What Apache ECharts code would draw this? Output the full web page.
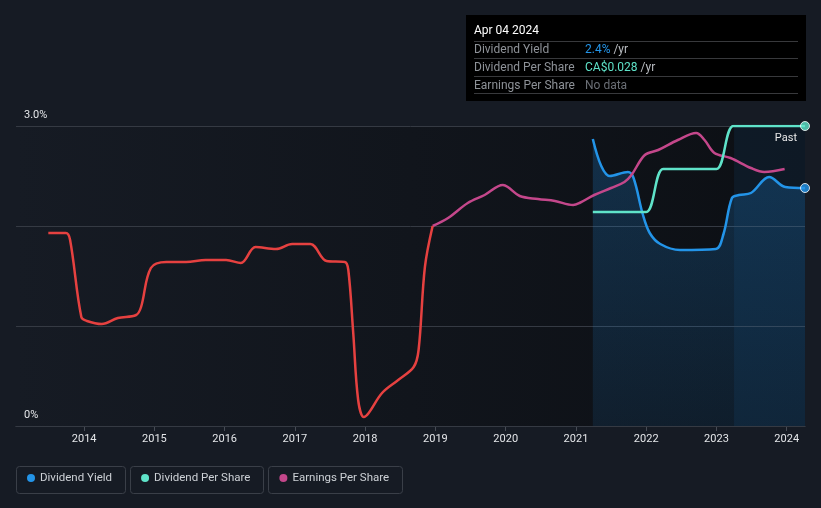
<!DOCTYPE html>
<html>
<head>
<meta charset="utf-8">
<script src="https://cdn.jsdelivr.net/npm/echarts@6/dist/echarts.min.js"></script>
<style>
html,body{margin:0;padding:0;background:#161b24;}
#c{width:821px;height:508px;}
</style>
</head>
<body>
<div id="c"></div>
<script>
// ---- data (x = decimal year, y = percent scale) ----
const yearTicks = [2014, 2015, 2016, 2017, 2018, 2019, 2020, 2021, 2022, 2023, 2024];
const yTickLabels = {0: '0%', 3: '3.0%'};

const dividendYield = [
  [2021.24, 2.87], [2021.36, 2.60], [2021.48, 2.50], [2021.74, 2.54], [2021.82, 2.48],
  [2021.95, 2.12], [2022.05, 1.93], [2022.20, 1.82], [2022.48, 1.76], [2022.99, 1.77],
  [2023.10, 1.92], [2023.22, 2.28], [2023.32, 2.31], [2023.49, 2.33], [2023.75, 2.49],
  [2023.98, 2.39], [2024.26, 2.38]
];

const dividendPerShare = [
  [2021.24, 2.14], [2022.00, 2.14], [2022.24, 2.57], [2023.00, 2.57], [2023.24, 3.0], [2024.26, 3.0]
];

const earningsPerShare = [
  [2013.49, 1.93], [2013.74, 1.93], [2013.80, 1.86], [2013.96, 1.09], [2014.04, 1.05],
  [2014.25, 1.02], [2014.48, 1.08], [2014.74, 1.11], [2014.81, 1.19], [2014.95, 1.58],
  [2015.17, 1.64], [2015.45, 1.64], [2015.73, 1.66], [2016.02, 1.66], [2016.23, 1.63],
  [2016.44, 1.79], [2016.73, 1.77], [2016.96, 1.82], [2017.22, 1.82], [2017.45, 1.65],
  [2017.71, 1.64], [2017.76, 1.56], [2017.83, 0.93], [2017.90, 0.26], [2017.98, 0.09],
  [2018.05, 0.13], [2018.24, 0.33], [2018.47, 0.46], [2018.69, 0.59], [2018.76, 0.76],
  [2018.85, 1.59], [2018.96, 2.00], [2019.18, 2.08], [2019.46, 2.23], [2019.70, 2.31],
  [2019.96, 2.41], [2020.03, 2.39], [2020.20, 2.30], [2020.46, 2.27], [2020.70, 2.25],
  [2020.96, 2.21], [2021.05, 2.23], [2021.26, 2.31], [2021.50, 2.38], [2021.69, 2.44],
  [2021.79, 2.51], [2021.98, 2.71], [2022.17, 2.76], [2022.45, 2.86], [2022.71, 2.93],
  [2022.83, 2.86], [2022.97, 2.73], [2023.20, 2.68], [2023.49, 2.58], [2023.68, 2.54],
  [2023.97, 2.57]
];
const epsThreshold = 2.0;

const pastBand = [2023.25, 2024.26];
const xRange = [2013.03, 2024.26];

const legendNames = ['Dividend Yield', 'Dividend Per Share', 'Earnings Per Share'];
const colors = {yield: '#2394e8', dps: '#5fe3c9', eps: '#c4478b', epsNeg: '#e64140'};

const tooltipTitle = 'Apr 04 2024';
const tooltipRows = [
  ['Dividend Yield', '2.4%', ' /yr', colors.yield],
  ['Dividend Per Share', 'CA$0.028', ' /yr', colors.dps],
  ['Earnings Per Share', 'No data', '', '#6b6f76']
];

// split EPS into the part below the threshold and the rest
const splitIdx = earningsPerShare.findIndex(p => p[1] >= epsThreshold);
const epsLow = earningsPerShare.slice(0, splitIdx + 1);
const epsHigh = earningsPerShare.slice(splitIdx);

// ---- chart ----
const chart = echarts.init(document.getElementById('c'), null, {renderer: 'canvas'});
const FONT = 'Roboto, "Noto Sans", sans-serif';

const graphics = [];
graphics.push({type: 'rect', left: 466, top: 15, shape: {width: 340, height: 86}, style: {fill: '#000000'}, z: 100});
graphics.push({type: 'text', x: 474, y: 30.5, style: {text: tooltipTitle, fill: '#ffffff', font: '12px ' + FONT, verticalAlign: 'middle'}, z: 101});
const sepY = [41, 58, 76, 93];
sepY.forEach(y => graphics.push({type: 'line', shape: {x1: 474, y1: y + 0.5, x2: 798, y2: y + 0.5}, style: {stroke: '#38393c', lineWidth: 1}, z: 101}));
tooltipRows.forEach((r, i) => {
  const cy = 50 + i * 17.8;
  graphics.push({type: 'text', x: 474, y: cy, style: {text: r[0], fill: '#8e9298', font: '12px ' + FONT, verticalAlign: 'middle'}, z: 101});
  graphics.push({type: 'text', x: 585, y: cy, style: {
    text: '{v|' + r[1] + '}{u|' + r[2] + '}',
    verticalAlign: 'middle',
    rich: {v: {fill: r[3], font: '12px ' + FONT}, u: {fill: '#b9bcc1', font: '12px ' + FONT}}
  }, z: 101});
});
graphics.push({type: 'text', x: 797, y: 138, style: {text: 'Past', fill: '#e8e8e8', font: '11px ' + FONT, align: 'right', verticalAlign: 'middle'}, z: 50});
const boxes = [[16.5, 109], [130.5, 133], [268.5, 134]];
boxes.forEach(b => graphics.push({type: 'rect', shape: {x: b[0], y: 466.5, width: b[1], height: 27, r: 3}, style: {fill: 'none', stroke: '#3a3f48', lineWidth: 1}, z: 1}));

const option = {
  backgroundColor: '#161b24',
  animation: false,
  grid: {
    left: 16, right: 16, top: 126, bottom: 82,
    show: true, borderWidth: 0,
    backgroundColor: new echarts.graphic.LinearGradient(0, 0, 1, 0, [
      {offset: 0, color: '#161b24'}, {offset: 1, color: '#0c0f14'}
    ])
  },
  legend: {
    data: legendNames.map(n => ({name: n, icon: 'circle'})),
    left: 27, top: 472, padding: 0,
    itemWidth: 8, itemHeight: 8, itemGap: 29,
    textStyle: {color: '#cdd1d6', fontSize: 11.5, fontFamily: FONT}
  },
  xAxis: {
    type: 'value', min: xRange[0], max: xRange[1],
    axisLine: {show: true, lineStyle: {color: '#474c55', width: 1}},
    axisTick: {show: true, customValues: yearTicks, length: 5, lineStyle: {color: '#474c55'}},
    axisLabel: {customValues: yearTicks, color: '#e4e6e9', fontSize: 11, fontFamily: FONT, margin: 8,
      formatter: v => String(Math.round(v))},
    splitLine: {show: false}
  },
  yAxis: {
    type: 'value', min: 0, max: 3, interval: 1,
    axisLine: {show: false}, axisTick: {show: false},
    splitLine: {show: true, lineStyle: {color: '#353a43', width: 1}},
    axisLabel: {
      inside: true, margin: 8, color: '#e4e6e9', fontSize: 11, fontFamily: FONT,
      verticalAlign: 'bottom', padding: [0, 0, 5, 0],
      formatter: v => yTickLabels[v] || ''
    },
    z: 3
  },
  series: [
    {
      name: legendNames[0], type: 'line', data: dividendYield,
      smooth: 0.35, showSymbol: false,
      lineStyle: {color: colors.yield, width: 2.5}, itemStyle: {color: colors.yield},
      areaStyle: {color: new echarts.graphic.LinearGradient(0, 0, 0, 1, [
        {offset: 0, color: 'rgba(33,150,243,0.32)'}, {offset: 1, color: 'rgba(33,150,243,0.14)'}
      ])},
      markArea: {silent: true, itemStyle: {color: 'rgba(33,150,243,0.08)'},
        data: [[{xAxis: pastBand[0], yAxis: 0}, {xAxis: pastBand[1], yAxis: 3}]]},
      z: 4
    },
    {
      name: legendNames[1], type: 'line', data: dividendPerShare,
      smooth: 0.5, smoothMonotone: 'x', showSymbol: false,
      lineStyle: {color: colors.dps, width: 2.5}, itemStyle: {color: colors.dps}, z: 5
    },
    {
      name: legendNames[2], type: 'line', data: epsHigh,
      smooth: 0.35, showSymbol: false,
      lineStyle: {color: colors.eps, width: 2.5}, itemStyle: {color: colors.eps}, z: 4
    },
    {
      type: 'line', data: epsLow,
      smooth: 0.35, showSymbol: false,
      lineStyle: {color: colors.epsNeg, width: 2.5}, itemStyle: {color: colors.epsNeg}, z: 4
    },
    {
      type: 'scatter', symbolSize: 9, z: 6, silent: true,
      data: [
        {value: dividendYield[dividendYield.length - 1], itemStyle: {color: colors.yield, borderColor: '#ffffff', borderWidth: 1}},
        {value: dividendPerShare[dividendPerShare.length - 1], itemStyle: {color: colors.dps, borderColor: '#ffffff', borderWidth: 1}}
      ]
    }
  ],
  graphic: graphics
};
chart.setOption(option);
</script>
</body>
</html>
